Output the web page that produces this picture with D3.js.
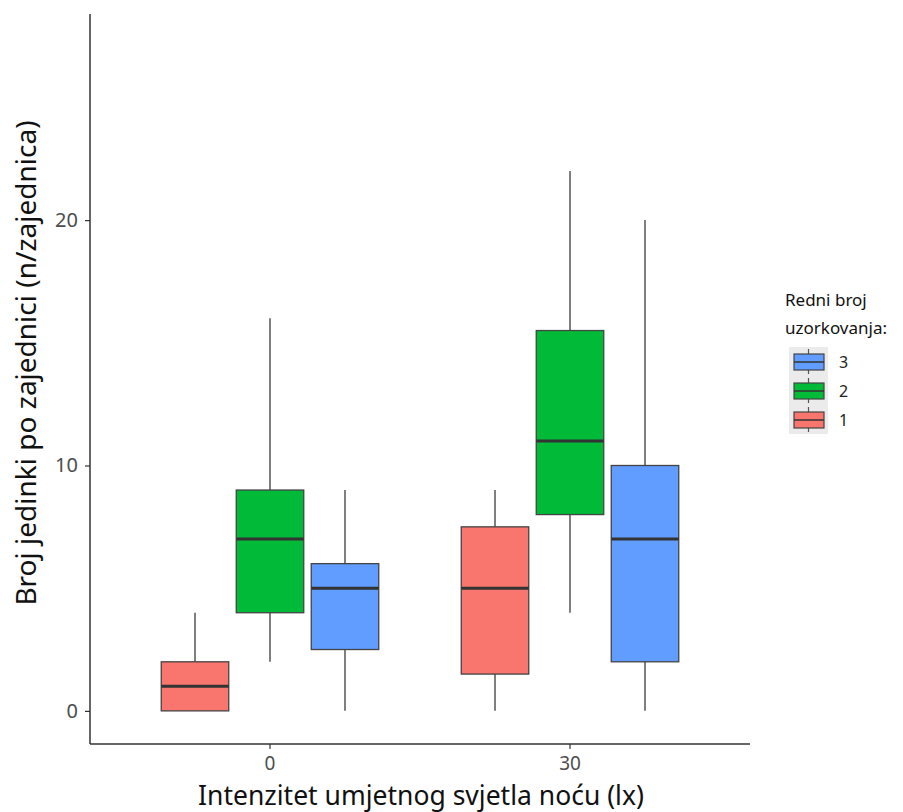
<!DOCTYPE html>
<html><head><meta charset="utf-8">
<script src="https://cdn.jsdelivr.net/npm/d3@7"></script>
<style>body{margin:0;background:#fff}</style>
</head><body>
<script>
const groups = ["0", "30"];
const series = ["1", "2", "3"];
const seriesColors = ["#F8766D", "#00BA38", "#619CFF"];
// [min, q1, median, q3, max] per group, per series
const stats0 = [[0, 0, 1, 2, 4], [2, 4, 7, 9, 16], [0, 2.5, 5, 6, 9]];
const stats30 = [[0, 1.5, 5, 7.5, 9], [4, 8, 11, 15.5, 22], [0, 2, 7, 10, 20]];
const yTicks = [0, 10, 20];
const xTitle = "Intenzitet umjetnog svjetla noću (lx)";
const yTitle = "Broj jedinki po zajednici (n/zajednica)";
const legendTitle = ["Redni broj", "uzorkovanja:"];

(function(){
const W = 903, H = 812;
const pL = 90, pR = 750, pT = 14, pB = 744;
const font = "'Noto Sans', 'Open Sans', sans-serif";

const svg = d3.select("body").append("svg").attr("width", W).attr("height", H);

const y = d3.scaleLinear().domain([-1.35, 28.4]).range([pB, pT]);
// ggplot-like discrete expansion 0.6
const xc = d3.scaleLinear().domain([0.4, 2.6]).range([pL, pR]);
const gc = g => xc(groups.indexOf(g) + 1);
const dodge = d3.scaleBand().domain(series).range([-112.5, 112.5]);

const data = [];
[stats0, stats30].forEach((st, gi) => {
  st.forEach((s, si) => data.push({g: groups[gi], s: series[si], v: s, c: seriesColors[si]}));
});

const gBox = svg.append("g");
data.forEach(d => {
  const cx = gc(d.g) + dodge(d.s) + dodge.bandwidth() / 2;
  const bw = dodge.bandwidth() * 0.9;
  const [mn, q1, md, q3, mx] = d.v;
  gBox.append("line").attr("x1", cx).attr("x2", cx).attr("y1", y(mx)).attr("y2", y(q3))
    .attr("stroke", "#555").attr("stroke-width", 1.5);
  gBox.append("line").attr("x1", cx).attr("x2", cx).attr("y1", y(q1)).attr("y2", y(mn))
    .attr("stroke", "#555").attr("stroke-width", 1.5);
  gBox.append("rect").attr("x", cx - bw / 2).attr("width", bw).attr("y", y(q3)).attr("height", y(q1) - y(q3))
    .attr("fill", d.c).attr("stroke", "#444").attr("stroke-width", 1.3);
  gBox.append("line").attr("x1", cx - bw / 2).attr("x2", cx + bw / 2).attr("y1", y(md)).attr("y2", y(md))
    .attr("stroke", "#333").attr("stroke-width", 3);
});

// axes
const yAxis = svg.append("g").attr("transform", `translate(${pL},0)`)
  .call(d3.axisLeft(y).tickValues(yTicks).tickSize(5).tickPadding(7).tickSizeOuter(0));
yAxis.select(".domain").attr("d", `M0,${pT}V${pB}`).attr("stroke", "#333").attr("stroke-width", 1.5);
yAxis.selectAll(".tick line").attr("stroke", "#333").attr("stroke-width", 1.2);
yAxis.selectAll(".tick text").attr("font-family", font).attr("font-size", 20).attr("fill", "#4d4d4d");

const xAxisG = svg.append("g").attr("transform", `translate(0,${pB})`);
xAxisG.append("line").attr("x1", pL).attr("x2", pR).attr("stroke", "#333").attr("stroke-width", 1.5);
groups.forEach(g => {
  xAxisG.append("line").attr("x1", gc(g)).attr("x2", gc(g)).attr("y1", 0).attr("y2", 5).attr("stroke", "#333").attr("stroke-width", 1.2);
  xAxisG.append("text").attr("x", gc(g)).attr("y", 26).attr("text-anchor", "middle")
    .attr("font-family", font).attr("font-size", 19).attr("fill", "#4d4d4d").text(g);
});

svg.append("text").attr("x", 421).attr("y", 805).attr("text-anchor", "middle")
  .attr("font-family", font).attr("font-size", 26.5).attr("fill", "#111").text(xTitle);
svg.append("text").attr("transform", `translate(36,363) rotate(-90)`)
  .attr("text-anchor", "middle").attr("font-family", font).attr("font-size", 28).attr("fill", "#111").text(yTitle);

// legend
const lg = svg.append("g");
legendTitle.forEach((t, i) => lg.append("text").attr("x", 785).attr("y", 306 + i * 28)
  .attr("font-family", font).attr("font-size", 17).attr("fill", "#111").text(t));
const order = series.slice().reverse();
order.forEach((s, i) => {
  const ky = 347 + i * 29;
  const col = seriesColors[series.indexOf(s)];
  lg.append("rect").attr("x", 789).attr("y", ky).attr("width", 39).attr("height", 29).attr("fill", "#ebebeb");
  lg.append("line").attr("x1", 808.5).attr("x2", 808.5).attr("y1", ky + 2).attr("y2", ky + 27).attr("stroke", "#555").attr("stroke-width", 1.2);
  lg.append("rect").attr("x", 794).attr("y", ky + 7).attr("width", 30).attr("height", 16)
    .attr("fill", col).attr("stroke", "#444").attr("stroke-width", 1.2);
  lg.append("line").attr("x1", 794).attr("x2", 824).attr("y1", ky + 15).attr("y2", ky + 15).attr("stroke", "#333").attr("stroke-width", 1.5);
  lg.append("text").attr("x", 839).attr("y", ky + 21).attr("font-family", font).attr("font-size", 16).attr("fill", "#222").text(s);
});
})();
</script>
</body></html>
